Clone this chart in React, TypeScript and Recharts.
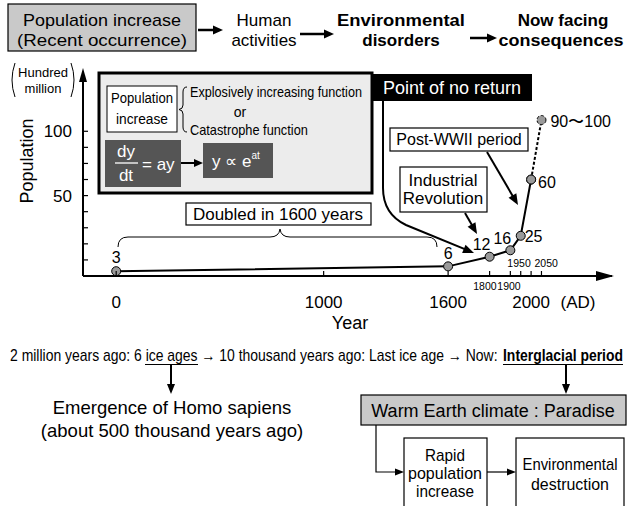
import React, { useRef, useState, useLayoutEffect } from 'react';
import { LineChart, Line, XAxis, YAxis, LabelList } from 'recharts';

const FONT = "'Liberation Sans', Arial, Helvetica, sans-serif";

// ---- data ----
const years = [0, 1600, 1800, 1900, 1950, 2000];
const population = [3, 6, 12, 16, 25, 60];
const pointLabels = ['3', '6', '12', '16', '25', '60'];
const projectionYears = [2000, 2050];
const projectionPopulation = [60, 97];
const projectionLabels = ['', '90〜100'];
const xTicks = [0, 1000, 1600, 1800, 1900, 1950, 2000, 2050];
const xMajorTicks = [0, 1000, 1600, 2000];
const xMinorBelow = [1800, 1900];
const xMinorAbove = [1950, 2050];
const yTicks = [10, 20, 30, 40, 50, 60, 70, 80, 90];
const yTickLabels = ['', '', '', '', '50', '', '', '', '100'];

const mainData = years.map((year, i) => ({ year, pop: population[i], label: pointLabels[i] }));
const projData = projectionYears.map((year, i) => ({ year, pop: projectionPopulation[i], label: projectionLabels[i] }));

// label placement (style, not data)
const mainOffsets = [
  { dx: 0, dy: -8, a: 'middle' },
  { dx: 0, dy: -7, a: 'middle' },
  { dx: -8, dy: -7, a: 'middle' },
  { dx: -8, dy: -6, a: 'middle' },
  { dx: 4, dy: 6, a: 'start' },
  { dx: 7, dy: 8, a: 'start' },
];
const projOffsets = [
  { dx: 0, dy: 0, a: 'start' },
  { dx: 9, dy: 7, a: 'start' },
];
// small tick label placement: [dx, anchor]
const minorPlacement: Record<number, [number, string]> = {
  1800: [7, 'end'],
  1900: [-13, 'start'],
  1950: [10, 'end'],
  2050: [-7, 'start'],
};

const makeLabel = (offsets: any[]) => (props: any) => {
  const { x, y, value, index } = props;
  if (!value) return null;
  const o = offsets[index];
  return (
    <text x={x + o.dx} y={y + o.dy} textAnchor={o.a} fontSize={16} fontFamily={FONT} fill="#000">
      {value}
    </text>
  );
};

const DOT = { r: 4.5, fill: '#9a9a9a', stroke: '#000', strokeWidth: 1 };

const XTick = (props: any) => {
  const { x, y, payload } = props;
  const v = payload.value;
  const mp = minorPlacement[v];
  return (
    <g>
      <line x1={x} y1={y} x2={x} y2={y - 5} stroke="#000" strokeWidth={1.2} />
      {xMajorTicks.includes(v) && (
        <text x={x} y={y + 32} textAnchor="middle" fontSize={17} fontFamily={FONT} fill="#000">{v}</text>
      )}
      {xMinorBelow.includes(v) && (
        <text x={x + mp[0]} y={y + 14} textAnchor={mp[1]} fontSize={10.5} fontFamily={FONT} fill="#000">{v}</text>
      )}
      {xMinorAbove.includes(v) && (
        <text x={x + mp[0]} y={y - 9} textAnchor={mp[1]} fontSize={10.5} fontFamily={FONT} fill="#000">{v}</text>
      )}
    </g>
  );
};

const YTick = (props: any) => {
  const { x, y, payload } = props;
  const lab = yTickLabels[yTicks.indexOf(payload.value)] || '';
  return (
    <g>
      <line x1={x} y1={y} x2={x + 5} y2={y} stroke="#000" strokeWidth={1.2} />
      {lab && (
        <text x={x - 11} y={y + 6} textAnchor="end" fontSize={17} fontFamily={FONT} fill="#000">{lab}</text>
      )}
    </g>
  );
};

// ---- annotation helpers ----
const head = (x1: number, y1: number, x2: number, y2: number, len: number, hw: number) => {
  const dx = x2 - x1, dy = y2 - y1, L = Math.hypot(dx, dy);
  const ux = dx / L, uy = dy / L;
  const bx = x2 - ux * len, by = y2 - uy * len;
  return `${x2},${y2} ${bx - uy * hw},${by + ux * hw} ${bx + uy * hw},${by - ux * hw}`;
};

const Arrow = ({ x1, y1, x2, y2, w = 2, len = 10, hw = 4 }: any) => {
  const dx = x2 - x1, dy = y2 - y1, L = Math.hypot(dx, dy);
  const ex = x2 - (dx / L) * len * 0.8, ey = y2 - (dy / L) * len * 0.8;
  return (
    <g>
      <line x1={x1} y1={y1} x2={ex} y2={ey} stroke="#000" strokeWidth={w} />
      <polygon points={head(x1, y1, x2, y2, len, hw)} fill="#000" />
    </g>
  );
};

const T = ({ x, y, s = 16, a = 'start', w = 'normal', fill = '#000', children, ...rest }: any) => (
  <text x={x} y={y} fontSize={s} textAnchor={a} fontWeight={w} fill={fill} fontFamily={FONT} {...rest}>
    {children}
  </text>
);

// condensed text: horizontally scaled to a target width
const C = ({ x, y, s = 16, a = 'start', w = 'normal', fill = '#000', len, children }: any) => {
  const ref = useRef<SVGTextElement>(null);
  const [k, setK] = useState(1);
  useLayoutEffect(() => {
    if (ref.current) {
      const n = ref.current.getComputedTextLength();
      if (n > 0) setK(len / n);
    }
  }, [len]);
  return (
    <text
      ref={ref}
      x={0}
      y={0}
      transform={`translate(${x},${y}) scale(${k},1)`}
      fontSize={s}
      textAnchor={a}
      fontWeight={w}
      fill={fill}
      fontFamily={FONT}
    >
      {children}
    </text>
  );
};

const Overlay = () => (
  <svg width={628} height={506} style={{ position: 'absolute', left: 0, top: 0, pointerEvents: 'none' }}>
    {/* top flow */}
    <rect x={8} y={4} width={188} height={47} fill="#c9c9c9" stroke="#000" strokeWidth={1.2} />
    <C x={102} y={26} s={17} a="middle" len={158}>Population increase</C>
    <C x={102} y={46} s={17} a="middle" len={170}>(Recent occurrence)</C>
    <Arrow x1={198} y1={30} x2={223} y2={30} w={2.5} len={10} hw={4.5} />
    <T x={264} y={26} s={17} a="middle">Human</T>
    <T x={264} y={46} s={17} a="middle">activities</T>
    <Arrow x1={300} y1={34} x2={334} y2={34} w={2.5} len={10} hw={4.5} />
    <C x={401} y={26} s={17} a="middle" w="bold" len={128}>Environmental</C>
    <T x={401} y={46} s={17} a="middle" w="bold">disorders</T>
    <Arrow x1={470} y1={38} x2={497} y2={38} w={2.5} len={10} hw={4.5} />
    <T x={563} y={26} s={17} a="middle" w="bold">Now facing</T>
    <C x={561} y={46} s={17} a="middle" w="bold" len={125}>consequences</C>

    {/* unit label */}
    <T x={43} y={77} s={13} a="middle">Hundred</T>
    <T x={43} y={93} s={13} a="middle">million</T>
    <path d="M15 63 Q9 80 15 97" fill="none" stroke="#000" strokeWidth={1} />
    <path d="M71 63 Q77 80 71 97" fill="none" stroke="#000" strokeWidth={1} />

    {/* axis arrow heads */}
    <polygon points="83,68 79,82 87,82" fill="#000" />
    <polygon points="614,276 596,271 596,281" fill="#000" />

    {/* axis titles */}
    <T x={27} y={167} s={18} a="middle" transform="rotate(-90 27 161)">Population</T>
    <T x={350} y={329} s={18} a="middle">Year</T>
    <T x={578} y={308} s={17} a="middle">(AD)</T>

    {/* inset */}
    <rect x={99} y={73} width={273} height={120} fill="#ececec" stroke="#000" strokeWidth={3} />
    <rect x={107} y={86} width={70} height={46} fill="#fff" stroke="#000" strokeWidth={1} />
    <C x={142} y={103} s={15} a="middle" len={62}>Population</C>
    <C x={142} y={124} s={15} a="middle" len={52}>increase</C>
    <path d="M187 87 Q183 87 183 92 L183 105 Q183 109 179 109.5 Q183 110 183 114 L183 127 Q183 132 187 132" fill="none" stroke="#000" strokeWidth={1} />
    <C x={190} y={97} s={14} len={172}>Explosively increasing function</C>
    <T x={240} y={117} s={14} a="middle">or</T>
    <C x={190} y={135} s={14} len={118}>Catastrophe function</C>
    <rect x={105} y={140} width={76} height={47} fill="#555" />
    <T x={126} y={157} s={17} a="middle" fill="#fff">dy</T>
    <line x1={115} y1={163} x2={138} y2={163} stroke="#fff" strokeWidth={1.3} />
    <T x={126} y={181} s={17} a="middle" fill="#fff">dt</T>
    <T x={142} y={170} s={17} fill="#fff">= ay</T>
    <Arrow x1={181} y1={163} x2={203} y2={163} w={2} len={9} hw={4} />
    <rect x={203} y={143} width={70} height={35} fill="#555" />
    <text x={212} y={167} fontSize={17} fill="#fff" fontFamily={FONT}>
      y ∝ e<tspan fontSize={10} dy={-8}>at</tspan>
    </text>

    {/* callouts */}
    <rect x={373} y={74} width={159} height={27} fill="#000" />
    <T x={452} y={94} s={18} a="middle" fill="#fff">Point of no return</T>
    <path d="M383 101 L383 188 Q383 214 406 225 L466 249.7" fill="none" stroke="#000" strokeWidth={2} />
    <polygon points={head(406, 225, 474, 253, 11, 4.5)} fill="#000" />

    <rect x={390} y={128} width={138} height={23} fill="#fff" stroke="#000" strokeWidth={1.2} />
    <T x={459} y={145} s={16} a="middle">Post-WWII period</T>
    <Arrow x1={487} y1={152} x2={518} y2={205} w={2} len={11} hw={4.5} />

    <rect x={400} y={167} width={87} height={45} fill="#fff" stroke="#000" strokeWidth={1.2} />
    <T x={443} y={186} s={17} a="middle">Industrial</T>
    <T x={443} y={204} s={17} a="middle">Revolution</T>
    <Arrow x1={465} y1={213} x2={477} y2={234} w={2} len={11} hw={4.5} />

    <rect x={186} y={203} width={185} height={22} fill="#fff" stroke="#000" strokeWidth={1.2} />
    <T x={278} y={220} s={17} a="middle">Doubled in 1600 years</T>
    <path d="M118 247 Q118 237 128 237 L270 237 Q279 237 280 229 Q281 237 290 237 L427 237 Q437 237 437 247" fill="none" stroke="#000" strokeWidth={1} />

    {/* bottom */}
    <C x={10} y={361} s={16} len={488}>2 million years ago: 6 ice ages → 10 thousand years ago: Last ice age → Now:</C>
    <C x={503} y={361} s={16} w="bold" len={120}>Interglacial period</C>
    <line x1={145} y1={364.5} x2={198} y2={364.5} stroke="#000" strokeWidth={1} />
    <line x1={503} y1={364.5} x2={623} y2={364.5} stroke="#000" strokeWidth={1} />
    <Arrow x1={171} y1={365} x2={171} y2={394} w={2} len={10} hw={4} />
    <Arrow x1={566} y1={365} x2={566} y2={394} w={2} len={10} hw={4} />
    <T x={172} y={414} s={18.5} a="middle">Emergence of Homo sapiens</T>
    <T x={172} y={437} s={18.5} a="middle">(about 500 thousand years ago)</T>

    <rect x={361} y={395} width={265} height={30} fill="#c9c9c9" stroke="#000" strokeWidth={1.2} />
    <T x={493} y={417} s={18} a="middle">Warm Earth climate : Paradise</T>
    <path d="M376 425 L376 472 L397 472" fill="none" stroke="#000" strokeWidth={1.2} />
    <polygon points={head(376, 472, 404, 472, 9, 3.5)} fill="#000" />
    <rect x={404} y={438} width={83} height={80} fill="#fff" stroke="#000" strokeWidth={1.2} />
    <C x={445} y={461} s={16} a="middle" len={40}>Rapid</C>
    <C x={445} y={479} s={16} a="middle" len={74}>population</C>
    <C x={445} y={497} s={16} a="middle" len={58}>increase</C>
    <Arrow x1={487} y1={472} x2={516} y2={472} w={1.2} len={9} hw={3.5} />
    <rect x={516} y={438} width={108} height={80} fill="#fff" stroke="#000" strokeWidth={1.2} />
    <C x={570} y={470} s={16} a="middle" len={95}>Environmental</C>
    <C x={570} y={490} s={16} a="middle" len={78}>destruction</C>
  </svg>
);

export default function App() {
  return (
    <div style={{ position: 'absolute', left: 0, top: 0, width: 628, height: 506, background: '#fff', fontFamily: FONT }}>
      <LineChart width={628} height={506} margin={{ top: 75, right: 16, left: 82, bottom: 229 }}>
        <XAxis
          type="number"
          dataKey="year"
          domain={[-160, 2390]}
          ticks={xTicks}
          interval={0}
          tick={(p: any) => <XTick {...p} />}
          tickLine={false}
          tickSize={0}
          tickMargin={0}
          axisLine={{ stroke: '#000', strokeWidth: 2 }}
          height={1}
          allowDataOverflow
        />
        <YAxis
          type="number"
          domain={[0, 125]}
          ticks={yTicks}
          interval={0}
          tick={(p: any) => <YTick {...p} />}
          tickLine={false}
          tickSize={0}
          tickMargin={0}
          axisLine={{ stroke: '#000', strokeWidth: 2 }}
          width={1}
          allowDataOverflow
        />
        <Line
          data={projData}
          dataKey="pop"
          stroke="#000"
          strokeWidth={2}
          strokeDasharray="3 2"
          dot={DOT}
          isAnimationActive={false}
        >
          <LabelList dataKey="label" content={makeLabel(projOffsets)} />
        </Line>
        <Line data={mainData} dataKey="pop" stroke="#000" strokeWidth={2} dot={DOT} isAnimationActive={false}>
          <LabelList dataKey="label" content={makeLabel(mainOffsets)} />
        </Line>
      </LineChart>
      <Overlay />
    </div>
  );
}
